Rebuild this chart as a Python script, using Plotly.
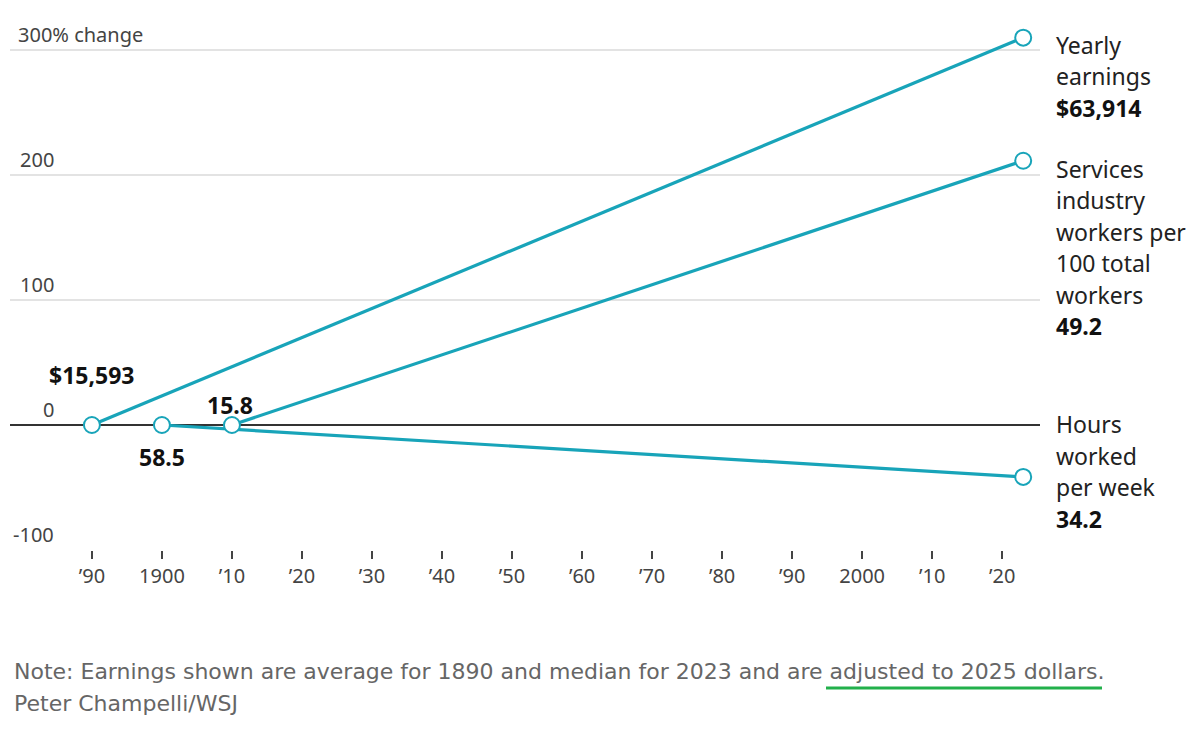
import plotly.graph_objects as go

# ---- data ----
earn_years = [1890, 2023]
earn_values = [15593, 63914]
serv_years = [1910, 2023]
serv_values = [15.8, 49.2]
hours_years = [1900, 2023]
hours_values = [58.5, 34.2]

def pct(vals):
    return [(v / vals[0] - 1) * 100 for v in vals]

earn_pct = pct(earn_values)
serv_pct = pct(serv_values)
hours_pct = pct(hours_values)

tick_years = list(range(1890, 2030, 10))
tick_labels = ["\u201990", "1900", "\u201910", "\u201920", "\u201930", "\u201940", "\u201950",
               "\u201960", "\u201970", "\u201980", "\u201990", "2000", "\u201910", "\u201920"]
y_ticks = [-100, 0, 100, 200, 300]
y_tick_text = ["-100", "0", "100", "200", "300% change"]

TEAL = "#18a4b9"
FONT = "Noto Sans"

fig = go.Figure()
for xs, ys in [(hours_years, hours_pct), (serv_years, serv_pct), (earn_years, earn_pct)]:
    fig.add_trace(go.Scatter(
        x=xs, y=ys, mode="lines+markers",
        line=dict(color=TEAL, width=3.2),
        marker=dict(symbol="circle", size=16, color="white", line=dict(color=TEAL, width=2)),
        cliponaxis=False, hoverinfo="skip", showlegend=False))

ann = []
# y labels
for v, t in zip(y_ticks, y_tick_text):
    if v == 300:
        ann.append(dict(x=0.006, xref="paper", y=v, yref="y", text=t, showarrow=False,
                        xanchor="left", yanchor="bottom", yshift=0,
                        font=dict(family=FONT, size=20, color="#444")))
    else:
        ann.append(dict(x=0.0445, xref="paper", y=v, yref="y", text=t, showarrow=False,
                        xanchor="right", yanchor="bottom", yshift=0,
                        font=dict(family=FONT, size=20, color="#444")))

# start value labels
bold = dict(family=FONT, size=23, color="#111")
ann.append(dict(x=earn_years[0], y=earn_pct[0], text="<b>$%s</b>" % format(earn_values[0], ","),
                showarrow=False, yshift=50, font=bold))
ann.append(dict(x=hours_years[0], y=hours_pct[0], text="<b>%s</b>" % hours_values[0],
                showarrow=False, yshift=-32, font=bold))
ann.append(dict(x=serv_years[0], y=serv_pct[0], text="<b>%s</b>" % serv_values[0],
                showarrow=False, yshift=20, xshift=-2, font=bold))

# end labels
ends = [
    (earn_pct[-1], 7, ["Yearly", "earnings", "<b>$%s</b>" % format(earn_values[-1], ",")]),
    (serv_pct[-1], 8, ["Services", "industry", "workers per", "100 total", "workers",
                       "<b>%s</b>" % serv_values[-1]]),
    (0, -1, ["Hours", "worked", "per week", "<b>%s</b>" % hours_values[-1]]),
]
for yv, off, lines in ends:
    for i, line in enumerate(lines):
        isb = "<b>" in line
        ann.append(dict(x=2023, y=yv, text=line, showarrow=False, xanchor="left",
                        yanchor="middle", xshift=31, yshift=-off - i * 31.5,
                        font=dict(family=FONT, size=23, color="#111" if isb else "#222")))

# note
NOTE_FONT = dict(family="DejaVu Sans", size=22, color="#666666")
ann.append(dict(x=0.002, xref="paper", y=-0.232, yref="paper",
                text="Note: Earnings shown are average for 1890 and median for 2023 and are adjusted to 2025 dollars.",
                showarrow=False, xanchor="left", yanchor="middle", font=NOTE_FONT))
ann.append(dict(x=0.002, xref="paper", y=-0.293, yref="paper", text="Peter Champelli/WSJ",
                showarrow=False, xanchor="left", yanchor="middle", font=NOTE_FONT))

fig.update_layout(
    width=1184, height=713,
    margin=dict(l=2, r=152, t=17, b=171),
    paper_bgcolor="white", plot_bgcolor="white",
    annotations=ann,
    shapes=[dict(type="line", xref="paper", yref="paper",
                 x0=(826 - 10) / 1030, x1=(1102 - 10) / 1030,
                 y0=(550 - 688) / 525, y1=(550 - 688) / 525,
                 line=dict(color="#22b04b", width=3))],
    xaxis=dict(range=[1878.3, 2025.4], tickvals=tick_years, ticktext=tick_labels,
               ticks="outside", ticklen=8, tickwidth=1.5, tickcolor="#444",
               showgrid=False, zeroline=False, showline=False,
               tickfont=dict(family=FONT, size=20, color="#444")),
    yaxis=dict(range=[-100, 320], tickvals=y_ticks, showticklabels=False,
               showgrid=True, gridcolor="#e3e3e3", gridwidth=1.5,
               zeroline=True, zerolinecolor="#333", zerolinewidth=1.5),
)
fig.write_html("out.html")
